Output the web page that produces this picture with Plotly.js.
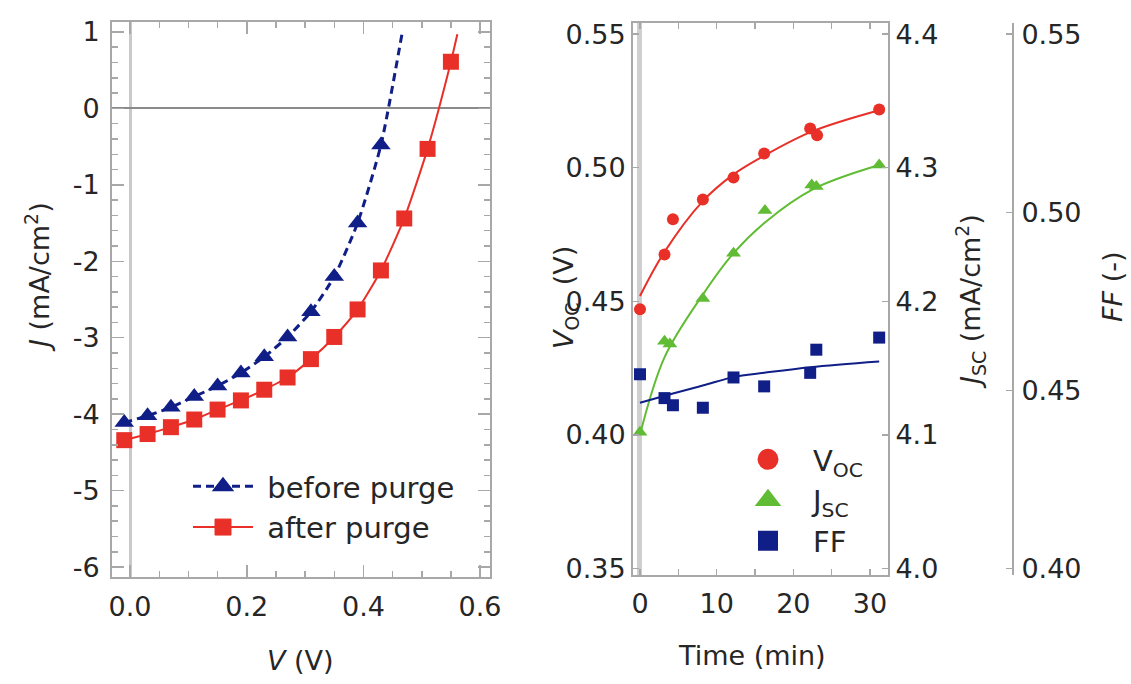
<!DOCTYPE html>
<html>
<head>
<meta charset="utf-8">
<script src="https://cdn.plot.ly/plotly-3.0.1.min.js"></script>
<style>html,body{margin:0;padding:0;background:#fff;}#chart{width:1131px;height:684px;}</style>
</head>
<body>
<div id="chart"></div>
<script>
// ---- Left panel: J-V curves ----
const beforeV = [-0.01, 0.03, 0.07, 0.11, 0.15, 0.19, 0.23, 0.27, 0.31, 0.35, 0.39, 0.43];
const beforeJ = [-4.11, -4.02, -3.91, -3.77, -3.63, -3.46, -3.25, -2.99, -2.66, -2.20, -1.50, -0.48];
const beforeEndV = [0.466];
const beforeEndJ = [0.97];
const afterV = [-0.01, 0.03, 0.07, 0.11, 0.15, 0.19, 0.23, 0.27, 0.31, 0.35, 0.39, 0.43, 0.47, 0.51, 0.55];
const afterJ = [-4.34, -4.26, -4.17, -4.07, -3.94, -3.82, -3.68, -3.52, -3.28, -2.99, -2.63, -2.12, -1.44, -0.53, 0.61];
const afterEndV = [0.561];
const afterEndJ = [0.97];
const vTickVals = [0, 0.2, 0.4, 0.6];
const vTickText = ['0.0', '0.2', '0.4', '0.6'];
const jTickVals = [1, 0, -1, -2, -3, -4, -5, -6];
const jTickText = ['1', '0', '-1', '-2', '-3', '-4', '-5', '-6'];
const jvNames = ['before purge', 'after purge'];

// ---- Right panel: time evolution ----
const vocT = [0, 3.2, 4.3, 8.2, 12.2, 16.2, 22.2, 23.1, 31.2];
const vocV = [0.447, 0.4675, 0.4807, 0.4881, 0.4963, 0.5053, 0.5147, 0.5122, 0.5218];
const vocFitT = [0, 3.2, 8.2, 12.2, 16.2, 22.4, 31.2];
const vocFitV = [0.452, 0.4685, 0.4875, 0.4975, 0.5045, 0.5135, 0.5215];
const jscT = [0, 3.2, 3.9, 8.2, 12.2, 16.3, 22.4, 23.0, 31.2];
const jscV = [4.102, 4.170, 4.168, 4.202, 4.236, 4.268, 4.287, 4.286, 4.302];
const jscFitT = [0, 3.2, 8.2, 12.2, 16.5, 22.6, 31.2];
const jscFitV = [4.100, 4.158, 4.205, 4.236, 4.260, 4.284, 4.302];
const ffT = [0, 3.2, 4.3, 8.2, 12.2, 16.2, 22.2, 23.0, 31.2];
const ffV = [0.4545, 0.4478, 0.4458, 0.4451, 0.4536, 0.4511, 0.4549, 0.4614, 0.4648];
const ffFitT = [0, 4.3, 8.3, 12.2, 16.2, 22.2, 31.2];
const ffFitV = [0.4465, 0.4491, 0.4514, 0.4537, 0.4549, 0.4565, 0.4581];
const tTickVals = [0, 10, 20, 30];
const vocTickVals = [0.35, 0.40, 0.45, 0.50, 0.55];
const vocTickText = ['0.35', '0.40', '0.45', '0.50', '0.55'];
const jscTickVals = [4.0, 4.1, 4.2, 4.3, 4.4];
const jscTickText = ['4.0', '4.1', '4.2', '4.3', '4.4'];
const ffTickVals = [0.40, 0.45, 0.50, 0.55];
const ffTickText = ['0.40', '0.45', '0.50', '0.55'];
const timeNames = ['V<sub>OC</sub>', 'J<sub>SC</sub>', 'FF'];

const RED = 'rgb(232,48,40)';
const NAVY = 'rgb(16,30,135)';
const GREEN = 'rgb(96,188,52)';
const FONT = 'DejaVu Sans, Liberation Sans, sans-serif';
const TXT = '#262626';
const FRAME = '#a8a8a8';
const NB = '\u00a0';

const traces = [
  // left panel lines
  {x: beforeV.concat(beforeEndV), y: beforeJ.concat(beforeEndJ), xaxis: 'x', yaxis: 'y', mode: 'lines',
   line: {color: NAVY, width: 3, dash: '8px,5px', shape: 'spline', smoothing: 0.6}, showlegend: false, hoverinfo: 'skip'},
  {x: afterV.concat(afterEndV), y: afterJ.concat(afterEndJ), xaxis: 'x', yaxis: 'y', mode: 'lines',
   line: {color: RED, width: 2, shape: 'spline', smoothing: 0.6}, showlegend: false, hoverinfo: 'skip'},
  {x: beforeV, y: beforeJ, xaxis: 'x', yaxis: 'y', mode: 'markers',
   marker: {symbol: 'triangle-up', size: 17, color: NAVY}, showlegend: false},
  {x: afterV, y: afterJ, xaxis: 'x', yaxis: 'y', mode: 'markers',
   marker: {symbol: 'square', size: 16, color: RED}, showlegend: false},
  // left legend entries
  {x: [null], y: [null], xaxis: 'x', yaxis: 'y', mode: 'lines+markers', name: NB + jvNames[0], legend: 'legend',
   line: {color: NAVY, width: 3, dash: '8px,5px'}, marker: {symbol: 'triangle-up', size: 16, color: NAVY, line: {color: NAVY, width: 2}}},
  {x: [null], y: [null], xaxis: 'x', yaxis: 'y', mode: 'lines+markers', name: NB + jvNames[1], legend: 'legend',
   line: {color: RED, width: 2}, marker: {symbol: 'square', size: 16, color: RED, line: {color: RED, width: 1}}},
  // right panel fits
  {x: vocFitT, y: vocFitV, xaxis: 'x2', yaxis: 'y2', mode: 'lines',
   line: {color: RED, width: 2, shape: 'spline'}, showlegend: false, hoverinfo: 'skip'},
  {x: jscFitT, y: jscFitV, xaxis: 'x2', yaxis: 'y3', mode: 'lines',
   line: {color: GREEN, width: 2, shape: 'spline'}, showlegend: false, hoverinfo: 'skip'},
  {x: ffFitT, y: ffFitV, xaxis: 'x2', yaxis: 'y4', mode: 'lines',
   line: {color: NAVY, width: 2, shape: 'spline'}, showlegend: false, hoverinfo: 'skip'},
  // right panel markers
  {x: vocT, y: vocV, xaxis: 'x2', yaxis: 'y2', mode: 'markers',
   marker: {symbol: 'circle', size: 12, color: RED}, showlegend: false},
  {x: jscT, y: jscV, xaxis: 'x2', yaxis: 'y3', mode: 'markers',
   marker: {symbol: 'triangle-up', size: 13, color: GREEN}, showlegend: false},
  {x: ffT, y: ffV, xaxis: 'x2', yaxis: 'y4', mode: 'markers',
   marker: {symbol: 'square', size: 12, color: NAVY}, showlegend: false},
  // right legend entries
  {x: [null], y: [null], xaxis: 'x2', yaxis: 'y2', mode: 'markers', name: timeNames[0], legend: 'legend2',
   marker: {symbol: 'circle', size: 16, color: RED, line: {color: RED, width: 5}}},
  {x: [null], y: [null], xaxis: 'x2', yaxis: 'y2', mode: 'markers', name: timeNames[1], legend: 'legend2',
   marker: {symbol: 'triangle-up', size: 16, color: GREEN, line: {color: GREEN, width: 4}}},
  {x: [null], y: [null], xaxis: 'x2', yaxis: 'y2', mode: 'markers', name: timeNames[2], legend: 'legend2',
   marker: {symbol: 'square', size: 16, color: NAVY, line: {color: NAVY, width: 4}}}
];

const W = 1131, H = 684;
const px = v => v / W;
const py = v => 1 - v / H;

const baseAxis = {
  showgrid: false, showline: true, linecolor: FRAME, linewidth: 2,
  ticks: 'inside', tickcolor: FRAME, tickwidth: 1.5,
  tickfont: {family: FONT, size: 27, color: TXT}, fixedrange: true
};

const titleFont = {family: FONT, size: 27, color: TXT};

const layout = {
  width: W, height: H,
  margin: {l: 0, r: 0, t: 0, b: 0},
  paper_bgcolor: '#fff', plot_bgcolor: '#fff',
  font: {family: FONT, color: TXT},
  xaxis: Object.assign({}, baseAxis, {
    domain: [px(112), px(490)], range: [-0.031, 0.617], anchor: 'y',
    tickmode: 'array', tickvals: vTickVals, ticktext: vTickText, ticklen: 12,
    minor: {tick0: 0, dtick: 0.05, ticks: 'inside', ticklen: 6, tickcolor: FRAME},
    mirror: 'allticks', zeroline: true, zerolinecolor: '#c9c9c9', zerolinewidth: 3,
    ticklabelstandoff: 5
  }),
  yaxis: Object.assign({}, baseAxis, {
    domain: [py(577), py(22)], range: [-6.13, 1.13], anchor: 'x',
    tickmode: 'array', tickvals: jTickVals, ticktext: jTickText, ticklen: 12,
    minor: {tick0: 0, dtick: 0.2, ticks: 'inside', ticklen: 6, tickcolor: FRAME},
    mirror: 'allticks', zeroline: true, zerolinecolor: '#8a8a8a', zerolinewidth: 2,
    ticklabelstandoff: 5
  }),
  xaxis2: Object.assign({}, baseAxis, {
    domain: [px(633), px(888)], range: [-0.91, 32.35], anchor: 'y2',
    tickmode: 'array', tickvals: tTickVals, ticklen: 6,
    minor: {tick0: 0, dtick: 5, ticks: 'inside', ticklen: 6, tickcolor: FRAME},
    mirror: 'allticks', zeroline: true, zerolinecolor: '#cfcfcf', zerolinewidth: 5,
    ticklabelstandoff: 4
  }),
  yaxis2: Object.assign({}, baseAxis, {
    domain: [py(575), py(23)], range: [0.3475, 0.5542], anchor: 'x2',
    tickmode: 'array', tickvals: vocTickVals, ticktext: vocTickText, ticklen: 6,
    zeroline: false, ticklabelstandoff: 0
  }),
  yaxis3: Object.assign({}, baseAxis, {
    range: [3.995, 4.4084], anchor: 'x2', overlaying: 'y2', side: 'right',
    tickmode: 'array', tickvals: jscTickVals, ticktext: jscTickText, ticklen: 6,
    zeroline: false, ticklabelstandoff: 0
  }),
  yaxis4: Object.assign({}, baseAxis, {
    range: [0.398125, 0.55315], anchor: 'free', overlaying: 'y2', side: 'right', position: px(1013),
    tickmode: 'array', tickvals: ffTickVals, ticktext: ffTickText, ticklen: 6,
    zeroline: false, ticklabelstandoff: 2
  }),
  legend: {
    x: px(188), y: py(461), xanchor: 'left', yanchor: 'top',
    bgcolor: 'rgba(0,0,0,0)', borderwidth: 0, itemwidth: 60,
    font: {family: FONT, size: 29, color: TXT}, tracegroupgap: 0
  },
  legend2: {
    x: px(723), y: py(434), xanchor: 'left', yanchor: 'top',
    bgcolor: 'rgba(0,0,0,0)', borderwidth: 0, itemwidth: 80,
    font: {family: FONT, size: 29, color: TXT}, tracegroupgap: 0
  },
  annotations: [
    {text: '<i>J</i> (mA/cm<sup>2</sup>)', xref: 'paper', yref: 'paper', x: px(37), y: py(277),
     textangle: -90, showarrow: false, xanchor: 'center', yanchor: 'middle', font: titleFont},
    {text: '<i>V</i> (V)', xref: 'paper', yref: 'paper', x: px(300), y: py(660),
     showarrow: false, xanchor: 'center', yanchor: 'middle', font: titleFont},
    {text: '<i>V</i><sub>OC</sub>' + NB + NB + '(V)', xref: 'paper', yref: 'paper', x: px(566), y: py(298),
     textangle: -90, showarrow: false, xanchor: 'center', yanchor: 'middle', font: titleFont},
    {text: '<i>J</i><sub>SC</sub> (mA/cm<sup>2</sup>)', xref: 'paper', yref: 'paper', x: px(970), y: py(302),
     textangle: -90, showarrow: false, xanchor: 'center', yanchor: 'middle', font: titleFont},
    {text: '<i>FF</i> (-)', xref: 'paper', yref: 'paper', x: px(1113), y: py(287),
     textangle: -90, showarrow: false, xanchor: 'center', yanchor: 'middle', font: titleFont},
    {text: 'Time (min)', xref: 'paper', yref: 'paper', x: px(752), y: py(655),
     showarrow: false, xanchor: 'center', yanchor: 'middle', font: titleFont}
  ]
};

Plotly.newPlot('chart', traces, layout, {staticPlot: true, displayModeBar: false});
</script>
</body>
</html>
